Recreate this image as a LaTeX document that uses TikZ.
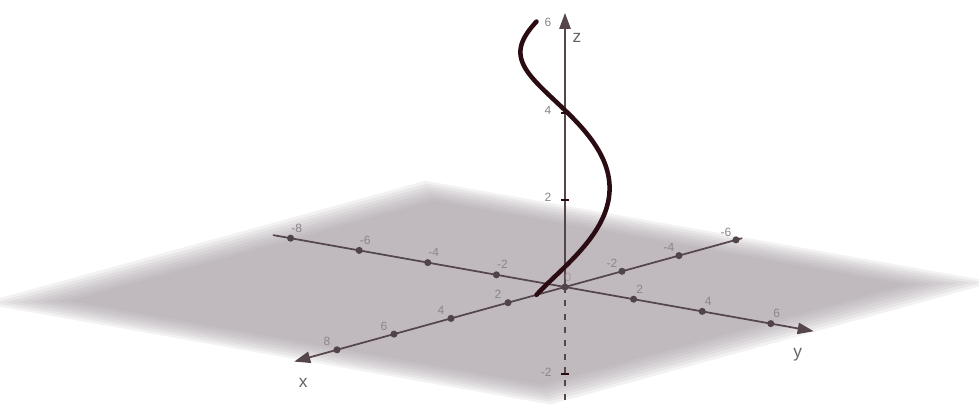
\documentclass[tikz,border=0pt]{standalone}
\usepackage{fontspec}
\setmainfont{Liberation Sans}
\usepackage{tikz}
\usetikzlibrary{arrows.meta}
\usepackage{xcolor}
\definecolor{planegray}{RGB}{161,152,158}
\definecolor{axiscol}{RGB}{85,70,76}
\definecolor{dotcol}{RGB}{80,68,74}
\definecolor{helixcol}{RGB}{42,12,18}
\definecolor{ticklab}{RGB}{140,132,136}
\definecolor{axislab}{RGB}{105,100,102}

\begin{document}
\begin{tikzpicture}[x={(-21.375pt,-5.8875pt)},y={(25.725pt,-4.575pt)},z={(0pt,32.625pt)},
  >={Triangle[length=12pt,width=8.5pt]},line cap=round,
  plane/.style={fill=planegray,fill opacity=0.13},
  axis/.style={axiscol,line width=1.3pt},
  tickdot/.style={circle,fill=dotcol,inner sep=0pt,minimum size=5.3pt},
  ztick/.style={rectangle,fill=helixcol,inner sep=0pt,minimum width=6pt,minimum height=1.3pt},
  ticklabel/.style={text=ticklab,font=\fontsize{9}{10}\selectfont,inner sep=0pt},
  axislabel/.style={text=axislab,font=\fontsize{13}{15}\selectfont,inner sep=0pt},
  helix/.style={helixcol,line width=3.4pt}]
\useasboundingbox (-423.75pt,-87.75pt) rectangle (310.5pt,215.25pt);
% xy-plane, soft edges
\fill[plane] (-6.3,-9.3) -- (9.3,-9.3) -- (9.3,7.3) -- (-6.3,7.3) -- cycle;
\fill[plane] (-6.1,-9.1) -- (9.1,-9.1) -- (9.1,7.1) -- (-6.1,7.1) -- cycle;
\fill[plane] (-5.9,-8.9) -- (8.9,-8.9) -- (8.9,6.9) -- (-5.9,6.9) -- cycle;
\fill[plane] (-5.7,-8.7) -- (8.7,-8.7) -- (8.7,6.7) -- (-5.7,6.7) -- cycle;
\fill[plane] (-5.5,-8.5) -- (8.5,-8.5) -- (8.5,6.5) -- (-5.5,6.5) -- cycle;
\fill[plane] (-5.3,-8.3) -- (8.3,-8.3) -- (8.3,6.3) -- (-5.3,6.3) -- cycle;
\fill[plane] (-5.1,-8.1) -- (8.1,-8.1) -- (8.1,6.1) -- (-5.1,6.1) -- cycle;
\fill[plane] (-4.9,-7.9) -- (7.9,-7.9) -- (7.9,5.9) -- (-4.9,5.9) -- cycle;
% axes
\coordinate (O) at (0,0,0);
\coordinate (xneg) at (-6.2,0,0);
\coordinate (xpos) at (9.5,0,0);
\coordinate (yneg) at (0,-8.5,0);
\coordinate (ypos) at (0,7.25,0);
\coordinate (zneg) at (0,0,-2.8);
\coordinate (zpos) at (0,0,6.3);
\draw[axis,dash pattern=on 4.5pt off 5.5pt,line cap=butt] (O) -- (zneg);
\draw[axis,->] (xneg) -- (xpos);
\draw[axis,->] (yneg) -- (ypos);
\draw[axis,->] (O) -- (zpos);
% ticks on x
\node[tickdot] (xm6) at (-6,0,0) {};
\node[tickdot] (xm4) at (-4,0,0) {};
\node[tickdot] (xm2) at (-2,0,0) {};
\node[tickdot] (x2) at (2,0,0) {};
\node[tickdot] (x4) at (4,0,0) {};
\node[tickdot] (x6) at (6,0,0) {};
\node[tickdot] (x8) at (8,0,0) {};
\path (xm6) ++(-7.5pt,6pt) node[ticklabel] (lxm6) {-6};
\path (xm4) ++(-7.5pt,6pt) node[ticklabel] (lxm4) {-4};
\path (xm2) ++(-7.5pt,6pt) node[ticklabel] (lxm2) {-2};
\path (x2) ++(-7.5pt,6pt) node[ticklabel] (lx2) {2};
\path (x4) ++(-7.5pt,6pt) node[ticklabel] (lx4) {4};
\path (x6) ++(-7.5pt,6pt) node[ticklabel] (lx6) {6};
\path (x8) ++(-7.5pt,6pt) node[ticklabel] (lx8) {8};
% ticks on y
\node[tickdot] (ym8) at (0,-8,0) {};
\node[tickdot] (ym6) at (0,-6,0) {};
\node[tickdot] (ym4) at (0,-4,0) {};
\node[tickdot] (ym2) at (0,-2,0) {};
\node[tickdot] (y2) at (0,2,0) {};
\node[tickdot] (y4) at (0,4,0) {};
\node[tickdot] (y6) at (0,6,0) {};
\path (ym8) ++(4.5pt,7.5pt) node[ticklabel] (lym8) {-8};
\path (ym6) ++(4.5pt,7.5pt) node[ticklabel] (lym6) {-6};
\path (ym4) ++(4.5pt,7.5pt) node[ticklabel] (lym4) {-4};
\path (ym2) ++(4.5pt,7.5pt) node[ticklabel] (lym2) {-2};
\path (y2) ++(4.5pt,7.5pt) node[ticklabel] (ly2) {2};
\path (y4) ++(4.5pt,7.5pt) node[ticklabel] (ly4) {4};
\path (y6) ++(4.5pt,7.5pt) node[ticklabel] (ly6) {6};
% ticks on z
\node[ztick] (zm2) at (0,0,-2) {};
\node[ztick] (z2) at (0,0,2) {};
\node[ztick] (z4) at (0,0,4) {};
\path (zm2) ++(-14pt,1.5pt) node[ticklabel] (lzm2) {-2};
\path (z2) ++(-12.75pt,2pt) node[ticklabel] (lz2) {2};
\path (z4) ++(-12.75pt,2pt) node[ticklabel] (lz4) {4};
\path (0,0,6) ++(-12.75pt,3pt) node[ticklabel] (lz6) {6};
\node[tickdot] (o) at (O) {};
\path (O) ++(2.25pt,7.5pt) node[ticklabel,opacity=0.6] (lo) {0};
% axis names
\path (xpos) ++(6.75pt,-15.75pt) node[axislabel] (lx) {x};
\path (ypos) ++(-12pt,-17.25pt) node[axislabel] (ly) {y};
\path (0,0,5.72) ++(9pt,0pt) node[axislabel] (lz) {z};
% helix
\draw[helix] plot[domain=0:6.2832,samples=120,variable=\t] ({cos(\t r)},{sin(\t r)},{\t});
\end{tikzpicture}
\end{document}
